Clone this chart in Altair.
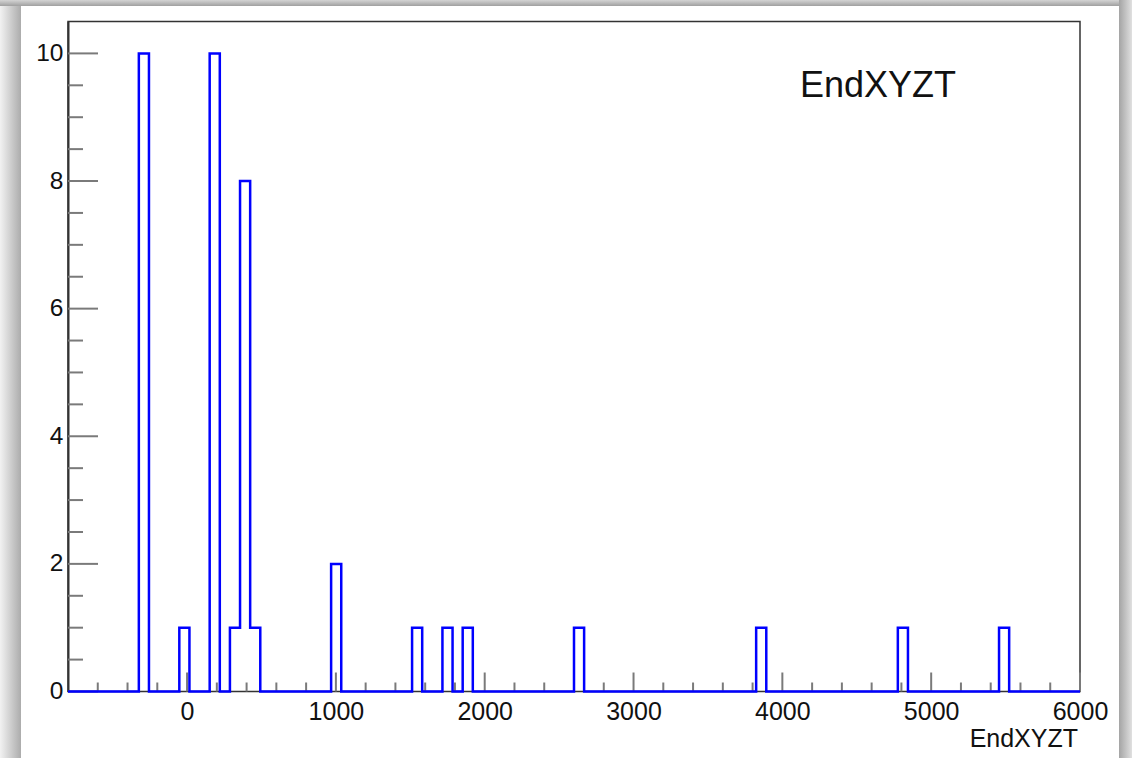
import altair as alt
import pandas as pd

# Histogram binning: 100 equal bins on [-800, 6000]
x_lo = -800
x_hi = 6000
n_bins = 100

# Non-empty bins (0-based index) and their entries
filled_bins = [7, 11, 14, 16, 17, 18, 26, 34, 37, 39, 50, 68, 82, 92]
counts = [10, 1, 10, 1, 8, 1, 2, 1, 1, 1, 1, 1, 1, 1]

y_max = 10.5
title_text = "EndXYZT"
x_title = "EndXYZT"

x_major = [0, 1000, 2000, 3000, 4000, 5000, 6000]
x_minor = [v for v in range(-600, 6000, 200) if v % 1000 != 0]
y_major = [0, 2, 4, 6, 8, 10]
y_minor = [v / 2 for v in range(1, 21) if v % 4 != 0]

W, H = 1012, 670
PAD_L, PAD_T, PAD_R, PAD_B = 68, 21.5, 52, 66.5

# Step outline of the histogram, one point per bin edge
width = (x_hi - x_lo) / n_bins
contents = [0] * n_bins
for b, c in zip(filled_bins, counts):
    contents[b] = c
edges = [x_lo + k * width for k in range(n_bins)] + [x_hi]
hist = pd.DataFrame({"x": edges, "y": contents + [contents[-1]]})

xs = alt.Scale(domain=[x_lo, x_hi], nice=False, zero=False)
ys = alt.Scale(domain=[0, y_max], nice=False, zero=True)

x_axis = alt.Axis(
    values=x_major, format="d", title=None, grid=False, domain=False,
    ticks=False, labelFontSize=25, labelPadding=8, labelColor="#111111",
    labelFont="Liberation Sans", labelFlush=False, labelOverlap=False,
)
y_axis = alt.Axis(
    values=y_major, format="d", title=None, grid=False, domain=True,
    domainColor="#333333", domainWidth=2, ticks=False, labelFontSize=24.5,
    labelPadding=5, labelColor="#111111", labelFont="Liberation Sans",
    labelFlush=False, labelOverlap=False,
)

one = pd.DataFrame({"k": [0]})


def shade(x0, x1, y0, y1, c0, c1, horizontal):
    grad = alt.LinearGradient(
        gradient="linear",
        stops=[alt.GradientStop(color=c0, offset=0), alt.GradientStop(color=c1, offset=1)],
        x1=0, x2=1 if horizontal else 0, y1=0, y2=0 if horizontal else 1,
    )
    return alt.Chart(one).mark_rect(color=grad).encode(
        x=alt.value(x0), x2=alt.value(x1), y=alt.value(y0), y2=alt.value(y1)
    )


# window drop shadow around the canvas
left_shade = shade(-PAD_L, -PAD_L + 21, -PAD_T, H + PAD_B, "#f2f2f2", "#acacac", True)
top_shade = shade(-PAD_L, W + PAD_R, -PAD_T, -PAD_T + 6, "#d4d4d4", "#a0a0a0", False)
right_shade = shade(W + PAD_R - 13, W + PAD_R, -PAD_T, H + PAD_B, "#a4a4a4", "#e0e0e0", True)

tick_color = "#7a7a7a"

xmaj = alt.Chart(pd.DataFrame({"x": x_major})).mark_rule(color=tick_color, strokeWidth=2).encode(
    x=alt.X("x:Q", scale=xs, axis=x_axis), y=alt.value(H), y2=alt.value(H - 19)
)
xmin_ = alt.Chart(pd.DataFrame({"x": x_minor})).mark_rule(color=tick_color, strokeWidth=2).encode(
    x=alt.X("x:Q", scale=xs, axis=x_axis), y=alt.value(H), y2=alt.value(H - 9)
)
ymaj = alt.Chart(pd.DataFrame({"y": y_major})).mark_rule(color=tick_color, strokeWidth=2).encode(
    y=alt.Y("y:Q", scale=ys, axis=y_axis), x=alt.value(0), x2=alt.value(30)
)
ymin_ = alt.Chart(pd.DataFrame({"y": y_minor})).mark_rule(color=tick_color, strokeWidth=2).encode(
    y=alt.Y("y:Q", scale=ys, axis=y_axis), x=alt.value(0), x2=alt.value(15)
)

line = alt.Chart(hist).mark_line(
    interpolate="step-after", color="#0000ff", strokeWidth=2.5
).encode(
    x=alt.X("x:Q", scale=xs, axis=x_axis),
    y=alt.Y("y:Q", scale=ys, axis=y_axis),
)

title_mark = alt.Chart(one).mark_text(
    text=title_text, font="Liberation Sans", fontSize=36, color="#111111",
    align="center", baseline="alphabetic",
).encode(x=alt.value(810), y=alt.value(75.5))

xtitle_mark = alt.Chart(one).mark_text(
    text=x_title, font="Liberation Sans", fontSize=25, color="#111111",
    align="right", baseline="alphabetic",
).encode(x=alt.value(W - 2), y=alt.value(747 - PAD_T))

chart = alt.layer(
    left_shade, top_shade, right_shade, xmin_, xmaj, ymin_, ymaj, line, title_mark, xtitle_mark
).properties(
    width=W,
    height=H,
    autosize=alt.AutoSizeParams(type="none"),
    padding={"left": PAD_L, "top": PAD_T, "right": PAD_R, "bottom": PAD_B},
    background="#ffffff",
).configure_view(
    stroke="#333333", strokeWidth=1.5
)

chart.save("out.html", embed_options={"renderer": "svg", "actions": False})
